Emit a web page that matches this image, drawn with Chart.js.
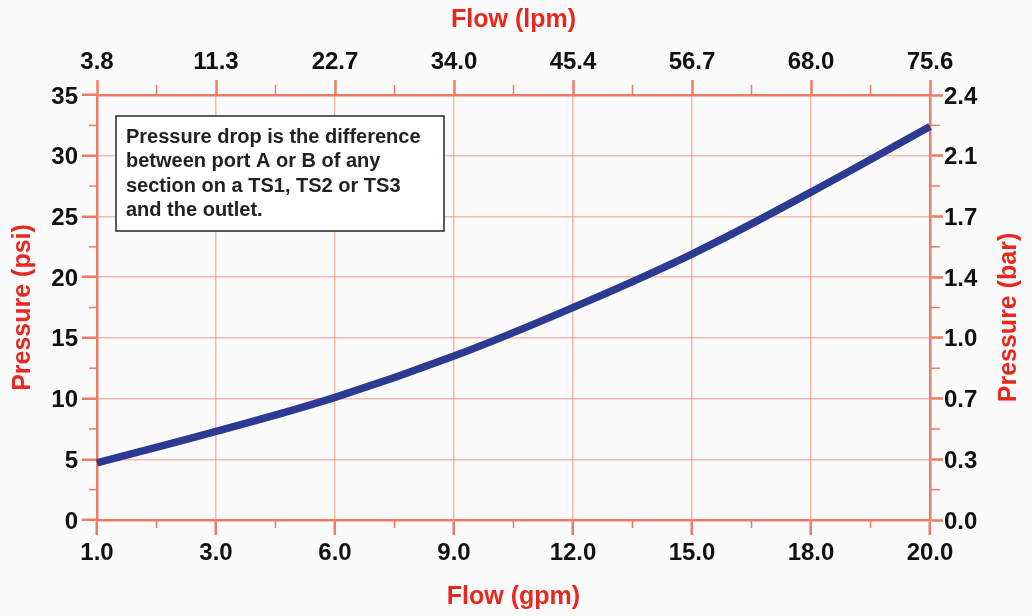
<!DOCTYPE html>
<html><head><meta charset="utf-8">
<script src="https://cdn.jsdelivr.net/npm/chart.js@4.4.0/dist/chart.umd.min.js"></script>
<style>html,body{margin:0;padding:0;background:#fbfbfb;} #wrap{width:1032px;height:616px;position:relative;}</style>
</head><body><div id="wrap"><canvas id="c" width="1032" height="616"></canvas></div>
<script>
// ---- data ----
const gpmLabels = ['1.0','3.0','6.0','9.0','12.0','15.0','18.0','20.0'];
const lpmLabels = ['3.8','11.3','22.7','34.0','45.4','56.7','68.0','75.6'];
const flowPos = [0,1,2,3,4,5,6,7];
const psiTicks = [0,5,10,15,20,25,30,35];
const barLabels = ['0.0','0.3','0.7','1.0','1.4','1.7','2.1','2.4'];
const pressurePsi = [4.7,7.3,10.1,13.5,17.5,21.9,27.0,32.4];
const noteLines = ['Pressure drop is the difference','between port A or B of any','section on a TS1, TS2 or TS3','and the outlet.'];
const rightTitle = 'Pressure (bar)';

const AXIS = '#f07a66', GRID = 'rgba(243,128,108,0.55)', TITLE = '#e8281e', TICKTXT = '#111111';
const FAM = '"Liberation Sans", Arial, sans-serif';
const tickFont = {family:FAM, size:24, weight:'bold'};
const titleFont = {family:FAM, size:25, weight:'bold'};

function axisBase(extra){
  return Object.assign({
    type:'linear',
    border:{display:true,color:AXIS,width:2.5},
    grid:{color:GRID,lineWidth:1.5,tickLength:15,tickColor:AXIS,tickWidth:2.5}
  }, extra);
}

const minorTicks = {
  id:'minorTicks',
  afterDraw(chart){
    const ctx = chart.ctx; const ca = chart.chartArea;
    ctx.save(); ctx.strokeStyle = AXIS; ctx.lineWidth = 1.5;
    const sx = chart.scales.x, sy = chart.scales.y;
    for (let i=0;i<flowPos.length-1;i++){
      const px = sx.getPixelForValue((flowPos[i]+flowPos[i+1])/2);
      ctx.beginPath(); ctx.moveTo(px,ca.bottom); ctx.lineTo(px,ca.bottom+8); ctx.stroke();
      ctx.beginPath(); ctx.moveTo(px,ca.top); ctx.lineTo(px,ca.top-10); ctx.stroke();
    }
    for (let i=0;i<psiTicks.length-1;i++){
      const py = sy.getPixelForValue((psiTicks[i]+psiTicks[i+1])/2);
      ctx.beginPath(); ctx.moveTo(ca.left,py); ctx.lineTo(ca.left-8,py); ctx.stroke();
      ctx.beginPath(); ctx.moveTo(ca.right,py); ctx.lineTo(ca.right+10,py); ctx.stroke();
    }
    ctx.restore();
  }
};

const extras = {
  id:'extras',
  afterDraw(chart){
    const ctx = chart.ctx; const ca = chart.chartArea;
    // note box
    const x = ca.left + 19, y = ca.top + 21, w = 328, h = 115;
    ctx.save();
    ctx.fillStyle = '#ffffff'; ctx.fillRect(x,y,w,h);
    ctx.strokeStyle = '#333333'; ctx.lineWidth = 1.6; ctx.strokeRect(x,y,w,h);
    ctx.fillStyle = '#222222'; ctx.font = 'bold 20px ' + FAM;
    ctx.textBaseline = 'alphabetic';
    noteLines.forEach((t,i)=> ctx.fillText(t, x+10, y+27+i*24.4));
    ctx.restore();
    // right axis title (reads bottom to top)
    const s = chart.scales.y2;
    ctx.save();
    ctx.translate(s.right - 23, (ca.top+ca.bottom)/2 + 10);
    ctx.rotate(-Math.PI/2);
    ctx.fillStyle = TITLE; ctx.font = 'bold 25px ' + FAM;
    ctx.textAlign = 'center'; ctx.textBaseline = 'middle';
    ctx.fillText(rightTitle, 0, 0);
    ctx.restore();
  }
};

new Chart(document.getElementById('c'), {
  type:'line',
  data:{ datasets:[{
    data: flowPos.map((p,i)=>({x:p,y:pressurePsi[i]})),
    borderColor:'#2c3a92', borderWidth:7.5, pointRadius:0, tension:0.4,
    xAxisID:'x', yAxisID:'y', clip:false, borderCapStyle:'butt'
  }]},
  options:{
    responsive:false, animation:false, devicePixelRatio:1,
    layout:{padding:0},
    plugins:{legend:{display:false}, tooltip:{enabled:false}},
    scales:{
      x: axisBase({position:'bottom', min:0, max:7,
        afterBuildTicks:s=>{s.ticks = flowPos.map(v=>({value:v}));},
        afterFit:s=>{s.height = 96;},
        ticks:{color:TICKTXT, font:tickFont, padding:4, maxRotation:0, autoSkip:false, callback:(v)=>gpmLabels[flowPos.indexOf(v)]},
        title:{display:true, text:'Flow (gpm)', color:TITLE, font:titleFont, padding:{top:0,bottom:4}}
      }),
      x2: axisBase({position:'top', min:0, max:7,
        afterBuildTicks:s=>{s.ticks = flowPos.map(v=>({value:v}));},
        afterFit:s=>{s.height = 95;},
        grid:{drawOnChartArea:false, tickLength:15, tickColor:AXIS, tickWidth:2.5},
        ticks:{color:TICKTXT, font:tickFont, padding:3, maxRotation:0, autoSkip:false, callback:(v)=>lpmLabels[flowPos.indexOf(v)]},
        title:{display:true, text:'Flow (lpm)', color:TITLE, font:titleFont, padding:{top:5,bottom:0}}
      }),
      y: axisBase({position:'left', min:0, max:35,
        afterBuildTicks:s=>{s.ticks = psiTicks.map(v=>({value:v}));},
        afterFit:s=>{s.width = 97;},
        ticks:{color:TICKTXT, font:tickFont, padding:4, labelOffset:2, callback:(v)=>String(v)},
        title:{display:true, text:'Pressure (psi)', color:TITLE, font:titleFont, padding:{top:8,bottom:0}}
      }),
      y2: axisBase({position:'right', min:0, max:35,
        afterBuildTicks:s=>{s.ticks = psiTicks.map(v=>({value:v}));},
        afterFit:s=>{s.width = 102;},
        grid:{drawOnChartArea:false, tickLength:13, tickColor:AXIS, tickWidth:2.5},
        ticks:{color:TICKTXT, font:tickFont, padding:1, labelOffset:2, callback:(v)=>barLabels[psiTicks.indexOf(v)]},
        title:{display:false}
      })
    }
  },
  plugins:[minorTicks, extras]
});
</script></body></html>
